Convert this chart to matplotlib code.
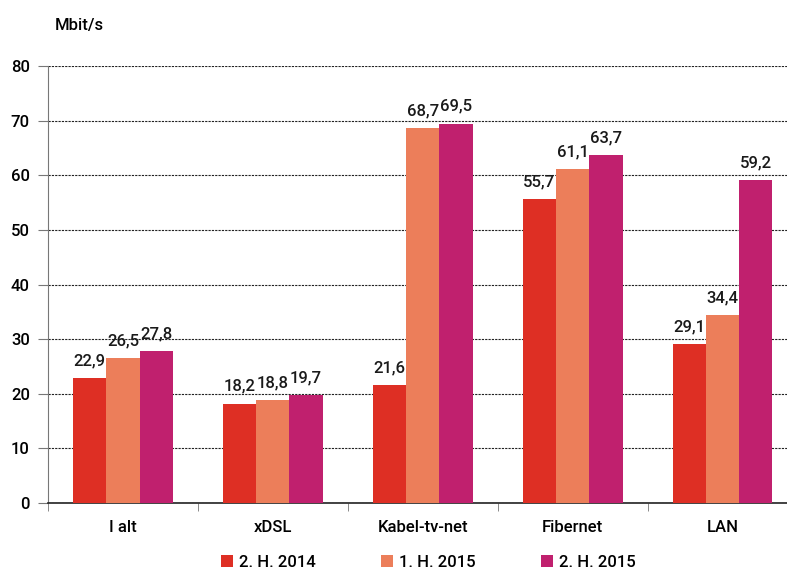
import numpy as np
import matplotlib.pyplot as plt

categories = ["I alt", "xDSL", "Kabel-tv-net", "Fibernet", "LAN"]
series_names = ["2. H. 2014", "1. H. 2015", "2. H. 2015"]
h2_2014 = [22.9, 18.2, 21.6, 55.7, 29.1]
h1_2015 = [26.5, 18.8, 68.7, 61.1, 34.4]
h2_2015 = [27.8, 19.7, 69.5, 63.7, 59.2]
colors = ["#DE2F24", "#EC7E5A", "#C0206E"]

plt.rcParams['font.family'] = ['Roboto', 'DejaVu Sans']
plt.rcParams['font.weight'] = 'medium'

fig = plt.figure(figsize=(7.87, 5.76), dpi=100)
ax = fig.add_axes([0.061, 0.127, 0.939, 0.758])

x = np.arange(len(categories))
w = 0.222
for i, (vals, name) in enumerate(zip([h2_2014, h1_2015, h2_2015], series_names)):
    pos = x + (i - 1) * w
    ax.bar(pos, vals, width=w, color=colors[i], label=name, zorder=3)
    for p, v in zip(pos, vals):
        ax.text(p, v + 1.8, f"{v:.1f}".replace(".", ","), ha="center", va="bottom",
                fontsize=12, color="#1a1a1a")

ax.set_ylim(0, 80)
ax.set_xlim(-0.5, 4.43)
ax.set_yticks(range(0, 81, 10))
ax.yaxis.grid(True, linestyle=(0, (2, 1)), color="#222222", linewidth=0.8, zorder=0)
ax.set_xticks(x)
ax.set_xticklabels(categories)
ax.set_xticks(np.arange(-0.5, 4.5, 1), minor=True)
ax.tick_params(axis="x", which="major", length=0, pad=12, labelsize=12)
ax.tick_params(axis="x", which="minor", length=6, color="#777777", direction="out")
ax.tick_params(axis="y", length=7, color="#777777", labelsize=12, pad=6)
for s in ["top", "right"]:
    ax.spines[s].set_visible(False)
ax.spines["left"].set_color("#777777")
ax.spines["bottom"].set_color("#222222")
ax.spines["bottom"].set_linewidth(1.2)

fig.text(0.07, 0.955, "Mbit/s", fontsize=12, ha="left", va="center")

ax.legend(loc="upper center", bbox_to_anchor=(0.515, -0.085), ncol=3, frameon=False,
          fontsize=12, handlelength=0.7, handleheight=0.7, columnspacing=3.9,
          handletextpad=0.4)

fig.savefig("out.png", dpi=100)
